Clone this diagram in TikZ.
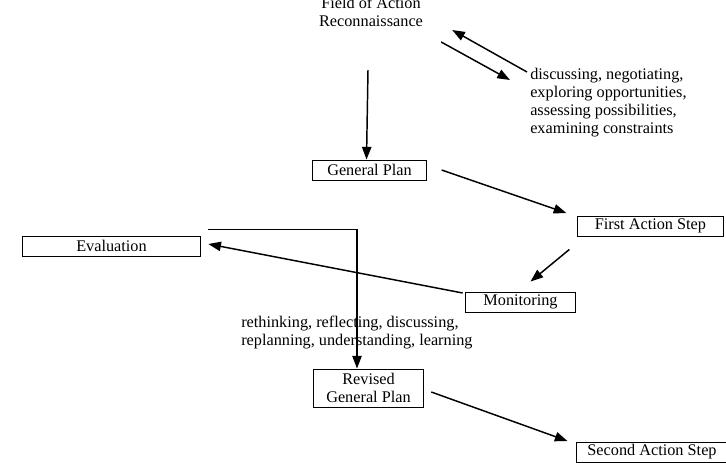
\documentclass[tikz,border=0pt]{standalone}
\usepackage{fontspec}
\setmainfont{Liberation Serif}
\usetikzlibrary{arrows.meta, positioning}

\begin{document}
\begin{tikzpicture}[
            x=0.75pt, y=-0.75pt,
            font=\fontsize{12.2}{13.5}\selectfont,
            stage/.style={rectangle, draw, line width=0.7pt, minimum height=15pt, inner sep=1pt, align=center},
            note/.style={align=left, inner sep=0pt},
            arr/.style={-{Triangle[length=9.5pt, width=7pt]}, line width=1.1pt}
        ]
            \useasboundingbox (0,0) rectangle (726,462);
            \node[align=center, inner sep=0pt] (recon) at (371,12) {Field of Action\\Reconnaissance};
            \node[note, anchor=west] (disc) at (530,103) {discussing, negotiating,\\exploring opportunities,\\assessing possibilities,\\examining constraints};
            \node[stage, minimum width=85pt] (gplan) at (369.5,170) {General Plan};
            \node[stage, minimum width=109pt] (first) at (650.5,226) {First Action Step};
            \node[stage, minimum width=83pt] (mon) at (520.5,302) {Monitoring};
            \node[stage, minimum width=134pt] (eval) at (111.5,246) {Evaluation};
            \node[note, anchor=west] (rethink) at (241,333) {rethinking, reflecting, discussing,\\replanning, understanding, learning};
            \node[stage, minimum width=83pt, minimum height=28.5pt] (revised) at (368.5,388) {Revised\\General Plan};
            \node[stage, minimum width=114pt] (second) at (652,452) {Second Action Step};
            % reconnaissance
            \draw[arr] ([shift={(-3,-31)}]disc.west) -- ([shift={(29,18)}]recon.east);
            \draw[arr] ([shift={(18,30)}]recon.east) -- ([shift={(-20,-23)}]disc.west);
            \draw[arr] ([shift={(-3,43)}]recon.south) -- ([shift={(-3,0)}]gplan.north);
            % first cycle
            \draw[arr] ([shift={(15,0)}]gplan.east) -- ([shift={(-11,-13)}]first.west);
            \draw[arr] ([shift={(-8,13)}]first.south west) -- ([shift={(10,-10)}]mon.north);
            \draw[arr] ([shift={(-2,-9)}]mon.west) -- ([shift={(7,-2)}]eval.east);
            \draw[arr] ([shift={(7,-6)}]eval.north east) -| ([shift={(-11.5,0)}]revised.north);
            % second cycle
            \draw[arr] ([shift={(7,4)}]revised.east) -- ([shift={(-8,-11)}]second.west);
        \end{tikzpicture}
\end{document}
